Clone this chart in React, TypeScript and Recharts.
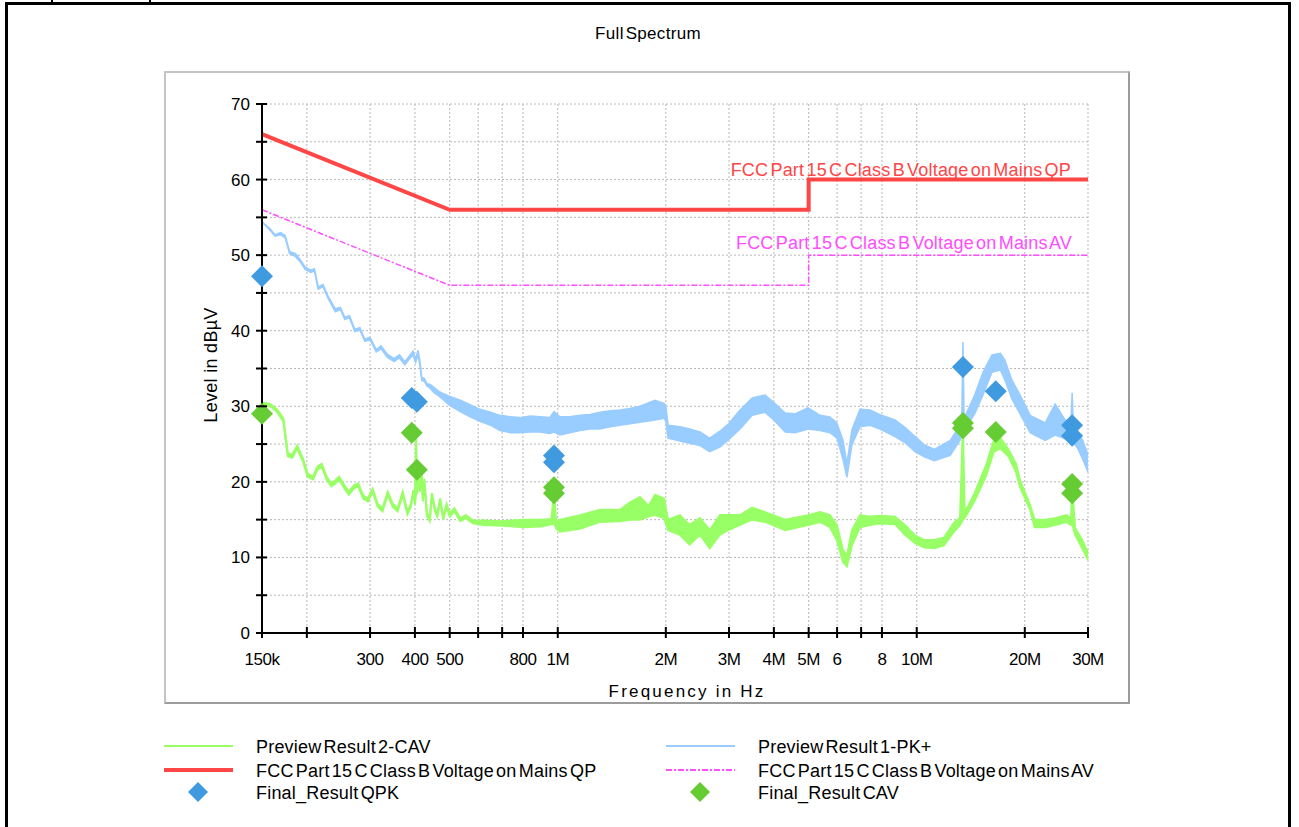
import { ComposedChart, Area, Line, Scatter, XAxis, YAxis, CartesianGrid } from "recharts";

const FONT = '"Liberation Sans", Arial, Helvetica, sans-serif';

// Preview Result 1-PK+ : frequency (kHz), lower / upper edge of the noisy trace (dBµV)
const pkFreqKHz = [
  150, 158, 163, 169, 174, 179, 186, 191, 198, 205, 210, 215, 222, 229, 240, 248, 255, 263, 272, 281,
  290, 300, 312, 322, 335, 350, 362, 375, 385, 395, 402, 408, 413, 418, 425, 432, 441, 452, 465, 479,
  501, 535, 570, 607, 650, 690, 740, 785, 840, 892, 950, 976, 1014, 1080, 1153, 1230, 1311, 1400, 1490, 1590,
  1695, 1866, 1977, 2000, 2030, 2190, 2330, 2490, 2650, 2830, 2980, 3220, 3480, 3780, 4000, 4300, 4580, 4980, 5380, 5730,
  5990, 6230, 6390, 6600, 6950, 7410, 7900, 8700, 9270, 9890, 10500, 11200, 12400, 13200, 13350, 13450, 13550, 14500, 15300, 16200,
  17100, 17600, 18400, 19400, 20700, 22800, 24300, 25900, 26900, 27100, 27300, 28100, 29000, 30000,
];
const pkLow = [
  54.4, 53.3, 52.5, 52.7, 52.3, 50.2, 49.8, 49.2, 48.1, 47.7, 47.9, 45.5, 45.8, 44.3, 42.5, 42.8, 41.5, 41.7, 39.9, 40.1,
  38.6, 38.8, 37.2, 37.6, 36.5, 35.9, 36.4, 35.5, 36.2, 36.8, 35.8, 36.8, 35.4, 33.4, 33.3, 32.7, 32.4, 31.8, 31.4, 30.9,
  30.1, 29.3, 28.6, 28.0, 27.5, 26.8, 26.5, 26.5, 26.6, 26.6, 26.4, 26.6, 26.2, 26.5, 26.8, 27.0, 27.0, 27.3, 27.5, 27.7,
  27.9, 28.2, 28.4, 28.0, 25.8, 25.4, 25.1, 24.8, 24.0, 24.6, 25.5, 27.0, 28.8, 29.2, 28.2, 26.6, 26.5, 27.0, 26.8, 26.5,
  25.8, 23.0, 20.6, 24.9, 27.3, 27.5, 27.0, 26.0, 25.2, 24.0, 23.3, 22.8, 23.5, 25.5, 26.2, 26.5, 26.8, 29.0, 31.5, 34.5,
  34.8, 33.5, 31.0, 29.0, 26.5, 25.5, 26.2, 25.7, 26.0, 26.0, 25.2, 24.4, 23.0, 21.3,
];
const pkHigh = [
  54.4, 53.5, 52.7, 53.0, 52.6, 50.5, 50.2, 49.5, 48.4, 48.0, 48.2, 45.8, 46.1, 44.6, 42.9, 43.1, 41.8, 42.0, 40.2, 40.4,
  38.9, 39.1, 37.5, 38.0, 36.9, 36.3, 36.8, 35.9, 36.6, 37.3, 36.3, 37.4, 36.0, 33.8, 33.7, 33.0, 32.9, 32.5, 32.0, 31.7,
  31.3, 30.8, 30.2, 29.6, 29.2, 28.8, 28.6, 28.5, 28.7, 28.6, 28.5, 29.3, 28.6, 28.6, 28.8, 28.9, 29.2, 29.4, 29.5, 29.7,
  30.0, 30.8, 30.4, 30.0, 27.5, 27.3, 27.0, 26.6, 25.8, 26.7, 27.6, 29.5, 31.1, 31.5, 30.5, 29.1, 29.0, 29.8, 28.8, 28.6,
  27.8, 25.5, 22.4, 26.9, 29.6, 29.5, 28.9, 28.2, 27.2, 26.0, 24.9, 24.3, 25.5, 27.5, 28.0, 38.5, 28.4, 31.5, 34.5, 36.8,
  37.0, 36.1, 33.5, 31.5, 28.8, 27.8, 30.3, 28.2, 28.0, 31.8, 27.4, 26.6, 25.5, 23.6,
];

// Preview Result 2-CAV : frequency (kHz), lower / upper edge (dBµV)
const cavFreqKHz = [
  150, 158, 165, 172, 177, 182, 188, 195, 201, 208, 214, 220, 227, 234, 240, 246, 254, 262, 270, 278,
  287, 296, 305, 315, 325, 336, 347, 358, 370, 381, 390, 396, 400, 403, 406, 410, 413, 417, 421, 425,
  432, 440, 446, 455, 462, 470, 480, 490, 500, 515, 535, 555, 580, 620, 700, 800, 900, 960, 976, 990,
  1014, 1153, 1311, 1490, 1590, 1695, 1790, 1866, 1977, 2030, 2190, 2330, 2490, 2650, 2830, 2980, 3220, 3480, 3780, 4300,
  4980, 5380, 5730, 5990, 6230, 6390, 6600, 6950, 7410, 7900, 8700, 9270, 9890, 10500, 11200, 11900, 12700, 13200, 13450, 13600,
  14500, 15600, 16400, 17100, 18000, 18900, 19400, 20700, 21300, 22800, 24300, 26100, 26900, 27100, 27600, 28900, 30000,
];
const cavLow = [
  30.2, 30.0, 29.3, 28.0, 23.4, 23.2, 24.4, 22.7, 20.7, 20.3, 21.6, 22.0, 20.3, 19.4, 19.8, 20.3, 19.2, 18.3, 19.1, 19.4,
  17.8, 17.4, 18.7, 16.7, 16.1, 18.3, 16.7, 16.1, 18.3, 15.7, 16.7, 18.5, 17.0, 18.5, 18.5, 21.2, 18.7, 21.4, 17.4, 20.0,
  15.5, 14.8, 18.1, 16.1, 15.4, 17.4, 15.0, 16.7, 15.4, 16.1, 14.8, 15.2, 14.5, 14.3, 14.2, 14.0, 14.1, 14.4, 14.5, 13.8,
  13.4, 13.8, 14.7, 14.8, 15.0, 15.0, 15.4, 15.6, 15.2, 13.6, 13.0, 11.7, 13.0, 11.2, 13.0, 13.6, 14.3, 15.0, 14.7, 13.6,
  14.3, 14.7, 14.0, 12.3, 9.4, 8.8, 11.6, 14.0, 14.3, 14.5, 14.4, 13.0, 11.9, 11.3, 11.2, 11.6, 13.4, 14.3, 15.0, 15.2,
  17.5, 20.8, 24.0, 24.4, 23.4, 21.3, 19.3, 16.3, 14.0, 14.0, 14.3, 14.7, 14.3, 14.5, 13.0, 11.2, 9.7,
];
const cavHigh = [
  30.5, 30.3, 29.6, 28.4, 23.8, 23.6, 24.8, 23.1, 21.1, 20.7, 22.0, 22.4, 20.7, 19.8, 20.2, 20.7, 19.6, 18.7, 19.5, 19.8,
  18.2, 17.8, 19.1, 17.1, 16.5, 18.7, 17.1, 16.5, 18.7, 16.1, 17.1, 18.9, 17.4, 26.3, 19.0, 21.8, 19.1, 21.8, 17.8, 20.4,
  15.9, 15.2, 18.5, 16.5, 15.8, 17.8, 15.4, 17.1, 15.8, 16.5, 15.2, 15.6, 14.9, 14.9, 14.8, 15.0, 15.0, 15.1, 18.5, 14.8,
  15.0, 15.6, 16.3, 16.3, 17.3, 18.0, 16.8, 18.3, 17.8, 15.0, 15.6, 14.3, 15.2, 13.6, 15.6, 15.6, 15.6, 16.6, 16.0, 15.0,
  15.6, 16.0, 15.6, 14.3, 11.0, 10.2, 13.6, 15.6, 15.4, 15.5, 15.4, 14.3, 12.9, 12.3, 12.3, 12.6, 14.6, 15.2, 27.5, 15.9,
  18.5, 22.2, 25.5, 25.8, 24.3, 22.4, 20.2, 16.9, 15.0, 15.0, 15.2, 15.6, 15.2, 19.6, 13.9, 12.3, 10.6,
];

// limit lines
const qpFreqKHz = [150, 500, 5000, 5000, 30000];
const qpLevel = [66, 56, 56, 60, 60];
const avFreqKHz = [150, 500, 5000, 5000, 30000];
const avLevel = [56, 46, 46, 50, 50];

// final results
const qpkFreqKHz = [150, 392, 405, 976, 976, 13450, 16600, 27100, 27100];
const qpkLevel = [47.2, 31.1, 30.6, 23.5, 22.6, 35.2, 32.0, 27.5, 26.1];
const finCavFreqKHz = [150, 392, 405, 976, 976, 13450, 13450, 16600, 27100, 27100];
const finCavLevel = [29.0, 26.5, 21.6, 19.3, 18.5, 27.8, 27.1, 26.6, 19.7, 18.5];

// axes
const xTicks = [150e3, 200e3, 300e3, 400e3, 500e3, 600e3, 700e3, 800e3, 1e6, 2e6, 3e6, 4e6, 5e6, 6e6, 7e6, 8e6, 10e6, 20e6, 30e6];
const xTickLabels = ["150k", "", "300", "400", "500", "", "", "800", "1M", "2M", "3M", "4M", "5M", "6", "", "8", "10M", "20M", "30M"];
const yTicks = [0, 5, 10, 15, 20, 25, 30, 35, 40, 45, 50, 55, 60, 65, 70];

const C_PK = "#99ccff";
const C_CAV = "#99ff66";
const C_QP = "#ff4646";
const C_AV = "#ff4dff";
const C_QPK = "#3f9ae0";
const C_FCAV = "#66cc33";

const pkData = pkFreqKHz.map((f, i) => ({ f: f * 1000, band: [pkLow[i], pkHigh[i]] }));
const cavData = cavFreqKHz.map((f, i) => ({ f: f * 1000, band: [cavLow[i], cavHigh[i]] }));
const qpData = qpFreqKHz.map((f, i) => ({ f: f * 1000, v: qpLevel[i] }));
const avData = avFreqKHz.map((f, i) => ({ f: f * 1000, v: avLevel[i] }));
const qpkData = qpkFreqKHz.map((f, i) => ({ f: f * 1000, v: qpkLevel[i] }));
const fcavData = finCavFreqKHz.map((f, i) => ({ f: f * 1000, v: finCavLevel[i] }));

const diamond = (color: string) => (props: any) => {
  const { cx, cy } = props;
  if (cx == null || cy == null) return <g />;
  const r = 11;
  return <path d={`M${cx},${cy - r}L${cx + r},${cy}L${cx},${cy + r}L${cx - r},${cy}Z`} fill={color} />;
};

function XTick(props: any) {
  const { x, y, payload } = props;
  const label = xTickLabels[xTicks.indexOf(payload.value)];
  return (
    <g>
      <line x1={x} x2={x} y1={y - 6} y2={y + 5} stroke="#000" strokeWidth={2} />
      {label ? (
        <text x={x} y={y + 32} textAnchor="middle" fontSize={17} fontFamily={FONT} fill="#000" letterSpacing={-0.5}>
          {label}
        </text>
      ) : null}
    </g>
  );
}

function YTick(props: any) {
  const { x, y, payload } = props;
  return (
    <g>
      <line x1={x - 6} x2={x + 5} y1={y} y2={y} stroke="#000" strokeWidth={2} />
      {payload.value % 10 === 0 ? (
        <text x={x - 12} y={y + 6} textAnchor="end" fontSize={17} fontFamily={FONT} fill="#000">
          {payload.value}
        </text>
      ) : null}
    </g>
  );
}

const legendLeft = [
  { name: "Preview Result 2-CAV", kind: "line", color: C_CAV, width: 2 },
  { name: "FCC Part 15 C Class B Voltage on Mains QP", kind: "line", color: C_QP, width: 4 },
  { name: "Final_Result QPK", kind: "diamond", color: C_QPK, width: 0 },
];
const legendRight = [
  { name: "Preview Result 1-PK+", kind: "line", color: C_PK, width: 2 },
  { name: "FCC Part 15 C Class B Voltage on Mains AV", kind: "dash", color: C_AV, width: 2 },
  { name: "Final_Result CAV", kind: "diamond", color: C_FCAV, width: 0 },
];

const textStyle = { fontSize: 18, fontFamily: FONT, letterSpacing: 0.2, wordSpacing: -3 };

function LegendColumn({ items, x0 }: { items: typeof legendLeft; x0: number }) {
  const rows = [746, 770, 792];
  return (
    <g>
      {items.map((it, i) => {
        const cy = rows[i];
        return (
          <g key={it.name}>
            {it.kind === "diamond" ? (
              <path d={`M${x0 + 34},${cy - 10}L${x0 + 44},${cy}L${x0 + 34},${cy + 10}L${x0 + 24},${cy}Z`} fill={it.color} />
            ) : (
              <line
                x1={x0}
                x2={x0 + 69}
                y1={cy}
                y2={cy}
                stroke={it.color}
                strokeWidth={it.width}
                strokeDasharray={it.kind === "dash" ? "6 2 2 2" : undefined}
              />
            )}
            <text x={x0 + 92} y={cy + 7} fill="#000" style={textStyle}>
              {it.name}
            </text>
          </g>
        );
      })}
    </g>
  );
}

export default function App() {
  return (
    <div style={{ position: "absolute", left: 0, top: 0, width: 1299, height: 827, overflow: "hidden", background: "#fff" }}>
      {/* outer frame */}
      <div style={{ position: "absolute", left: 5, top: 2, width: 1286, height: 900, border: "3px solid #000", boxSizing: "border-box" }} />
      <div style={{ position: "absolute", left: 51, top: -10, width: 100, height: 14, borderLeft: "2px solid #000", borderRight: "2px solid #000", boxSizing: "border-box" }} />
      {/* grey panel */}
      <div
        style={{
          position: "absolute",
          left: 164,
          top: 71,
          width: 966,
          height: 633,
          borderTop: "2px solid #c4c4c4",
          borderLeft: "2px solid #c4c4c4",
          borderRight: "2px solid #9c9c9c",
          borderBottom: "2px solid #9c9c9c",
          boxSizing: "border-box",
        }}
      />
      <div style={{ position: "absolute", left: 0, top: 0 }}>
        <ComposedChart width={1299} height={827} margin={{ top: 104, left: 202, right: 211, bottom: 154 }}>
          <CartesianGrid stroke="#b8b8b8" strokeDasharray="2 2" />
          <XAxis
            dataKey="f"
            type="number"
            scale="log"
            domain={[150e3, 30e6]}
            ticks={xTicks}
            interval={0}
            height={40}
            tickSize={0}
            tickMargin={0}
            tick={<XTick />}
            axisLine={{ stroke: "#000", strokeWidth: 2 }}
          />
          <YAxis
            type="number"
            domain={[0, 70]}
            ticks={yTicks}
            interval={0}
            width={60}
            tickSize={0}
            tickMargin={0}
            tick={<YTick />}
            axisLine={{ stroke: "#000", strokeWidth: 2 }}
          />
          <Area
            data={pkData}
            dataKey="band"
            type="linear"
            stroke={C_PK}
            strokeWidth={1.5}
            fill={C_PK}
            fillOpacity={1}
            dot={false}
            activeDot={false}
            isAnimationActive={false}
          />
          <Area
            data={cavData}
            dataKey="band"
            type="linear"
            stroke={C_CAV}
            strokeWidth={2}
            fill={C_CAV}
            fillOpacity={1}
            dot={false}
            activeDot={false}
            isAnimationActive={false}
          />
          <Line data={qpData} dataKey="v" type="linear" stroke={C_QP} strokeWidth={4} dot={false} activeDot={false} isAnimationActive={false} />
          <Line
            data={avData}
            dataKey="v"
            type="linear"
            stroke={C_AV}
            strokeWidth={1.5}
            strokeDasharray="6 2 2 2"
            dot={false}
            activeDot={false}
            isAnimationActive={false}
          />
          <Scatter data={qpkData} dataKey="v" shape={diamond(C_QPK)} isAnimationActive={false} />
          <Scatter data={fcavData} dataKey="v" shape={diamond(C_FCAV)} isAnimationActive={false} />
        </ComposedChart>
      </div>
      <svg width={1299} height={827} style={{ position: "absolute", left: 0, top: 0, pointerEvents: "none" }}>
        <text x={648} y={39} textAnchor="middle" style={{ fontSize: 17, fontFamily: FONT, letterSpacing: 0.3, wordSpacing: -3 }}>
          Full Spectrum
        </text>
        <text x={1071} y={176} textAnchor="end" fill={C_QP} style={textStyle}>
          FCC Part 15 C Class B Voltage on Mains QP
        </text>
        <text x={1072} y={249} textAnchor="end" fill={C_AV} style={textStyle}>
          FCC Part 15 C Class B Voltage on Mains AV
        </text>
        <text
          x={217}
          y={365}
          textAnchor="middle"
          transform="rotate(-90 217 365)"
          style={{ fontSize: 18, fontFamily: FONT, letterSpacing: 0.3 }}
        >
          Level in dBµV
        </text>
        <text x={687} y={697} textAnchor="middle" fontSize={17} fontFamily={FONT} letterSpacing={2.2}>
          Frequency in Hz
        </text>
        <LegendColumn items={legendLeft} x0={164} />
        <LegendColumn items={legendRight} x0={666} />
      </svg>
    </div>
  );
}
